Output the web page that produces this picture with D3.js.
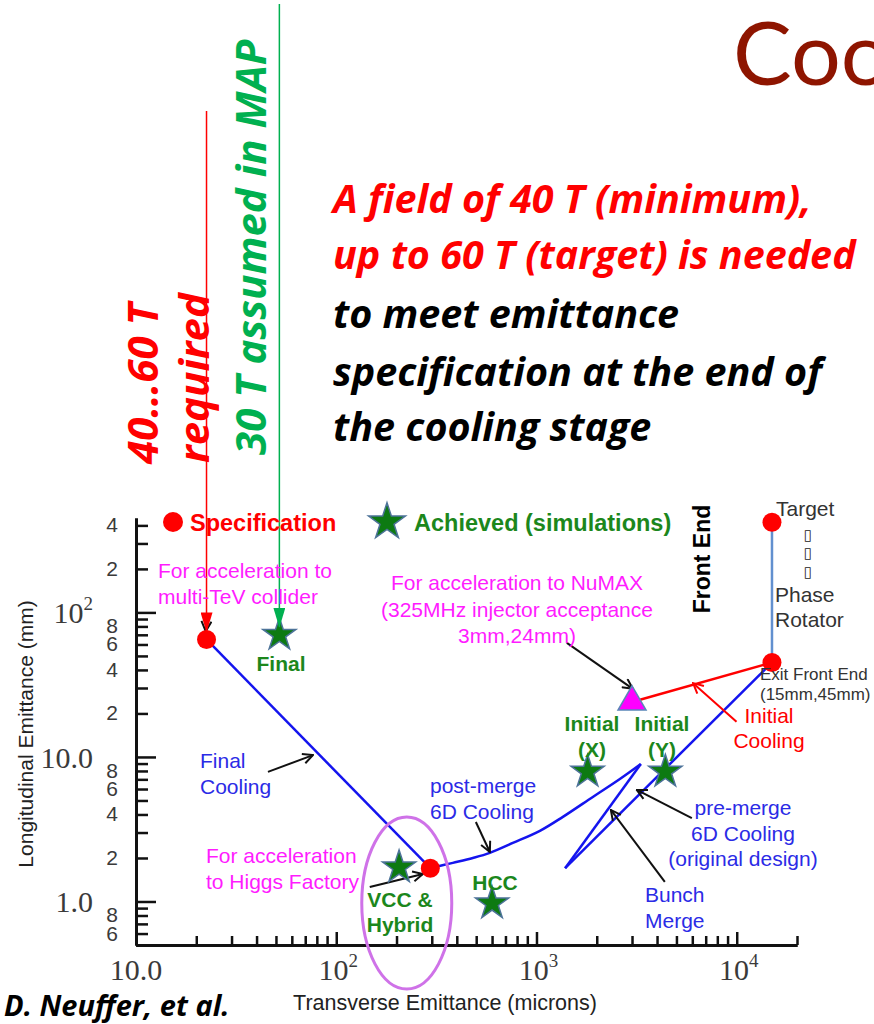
<!DOCTYPE html>
<html>
<head>
<meta charset="utf-8">
<script src="https://cdn.jsdelivr.net/npm/d3@7"></script>
<style>
  body { margin: 0; background: #fff; }
  svg { display: block; }
</style>
</head>
<body>
<svg id="chart" width="874" height="1024"></svg>
<script>
// ---- emittance data: transverse (microns) vs longitudinal (mm) ----
const specPoints = [
  { name: "multi-TeV collider", x: 22.5, y: 65 },
  { name: "Higgs Factory", x: 295, y: 1.7 },
  { name: "Target", x: 15000, y: 420 },
  { name: "Exit Front End", x: 15000, y: 45 }
];
const achievedStars = [
  { name: "Final", x: 52, y: 70 },
  { name: "VCC & Hybrid", x: 206, y: 1.72 },
  { name: "HCC", x: 600, y: 0.97 },
  { name: "Initial (X)", x: 1800, y: 7.9 },
  { name: "Initial (Y)", x: 4400, y: 7.9 }
];
const numaxPoint = { x: 3000, y: 24 };

const frontEndPath = [[15000, 420], [15000, 45]];
const initialCoolingPath = [[15000, 45], [3000, 24]];
const preMergePath = [[15000, 45], [1390, 1.7]];
const bunchMergePath = [[1390, 1.7], [3320, 8.94]];
const postMergePath = [[295, 1.7], [382, 1.85], [481, 2.0], [585, 2.17], [762, 2.54],
                       [1040, 3.08], [1355, 3.85], [1912, 5.29], [2609, 7.04], [3320, 8.94]];
const finalCoolingPath = [[22.5, 65], [295, 1.7]];

const xTickLabels = [
  { v: 10, base: "10.0", sup: "" },
  { v: 100, base: "10", sup: "2" },
  { v: 1000, base: "10", sup: "3" },
  { v: 10000, base: "10", sup: "4" }
];
const yDigitLabels = [
  { v: 400, t: "4" }, { v: 200, t: "2" },
  { v: 80, t: "8" }, { v: 60, t: "6" }, { v: 40, t: "4" }, { v: 20, t: "2" },
  { v: 8, t: "8" }, { v: 6, t: "6" }, { v: 4, t: "4" }, { v: 2, t: "2" },
  { v: 0.8, t: "8" }, { v: 0.6, t: "6" }
];
const yDecadeLabels = [
  { v: 100, base: "10", sup: "2" },
  { v: 10, base: "10.0", sup: "" },
  { v: 1, base: "1.0", sup: "" }
];

// ---- setup ----
const svg = d3.select("#chart");
const SANS = "'Liberation Sans', Arial, sans-serif";
const SERIF = "'Liberation Serif', 'Times New Roman', serif";
const SLIDE = "'Open Sans', Lato, sans-serif";
const C = {
  red: "#ff0000", blueLine: "#1414ee", blueText: "#2b2be6", magenta: "#ff1cff",
  green: "#1c871c", starFill: "#0d7a12", starStroke: "#4d7399",
  violet: "#cf72e8", steel: "#6290cf", gray: "#333333", mapGreen: "#00b050", title: "#8e1500"
};

svg.append("rect").attr("width", 874).attr("height", 1024).attr("fill", "#fff");

const x = d3.scaleLog().domain([10, 20000]).range([136, 797]);
const y = d3.scaleLog().domain([0.5, 450]).range([945, 518]);

// arrowhead markers
const defs = svg.append("defs");
function chevron(id, color) {
  defs.append("marker").attr("id", id)
    .attr("viewBox", "0 0 12 12").attr("refX", 11).attr("refY", 6)
    .attr("markerWidth", 12).attr("markerHeight", 12)
    .attr("markerUnits", "userSpaceOnUse").attr("orient", "auto")
    .append("path").attr("d", "M1,1 L11,6 L1,11")
    .attr("fill", "none").attr("stroke", color).attr("stroke-width", 2);
}
function spike(id, color) {
  defs.append("marker").attr("id", id)
    .attr("viewBox", "0 0 20 12").attr("refX", 19).attr("refY", 6)
    .attr("markerWidth", 20).attr("markerHeight", 12)
    .attr("markerUnits", "userSpaceOnUse").attr("orient", "auto")
    .append("path").attr("d", "M0,0 L20,6 L0,12 Z").attr("fill", color);
}
chevron("chevBlack", "#111");
chevron("chevRed", C.red);
spike("spikeRed", C.red);
spike("spikeGreen", C.mapGreen);

// ---- slide text ----
svg.append("text").attr("x", 733).attr("y", 85)
  .attr("font-family", "Lato, sans-serif").attr("font-size", 88).attr("fill", C.title)
  .text("Cooling");

const redLines = ["A field of 40 T (minimum),", "up to 60 T (target) is needed"];
const blackLines = ["to meet emittance", "specification at the end of", "the cooling stage"];
const slideBaselines = [213, 269, 328, 386, 441];
redLines.concat(blackLines).forEach((s, i) => {
  svg.append("text").attr("x", 333).attr("y", slideBaselines[i])
    .attr("font-family", SLIDE).attr("font-weight", 700).attr("font-style", "italic")
    .attr("font-size", 39.5).attr("fill", i < 2 ? C.red : "#000").text(s);
});

function rotatedText(xp, yp, s, color, size) {
  svg.append("text").attr("transform", `translate(${xp},${yp}) rotate(-90)`)
    .attr("font-family", SLIDE).attr("font-weight", 700).attr("font-style", "italic")
    .attr("font-size", size).attr("fill", color).text(s);
}
rotatedText(158, 464, "40\u202660 T", C.red, 42);
rotatedText(209, 463, "required", C.red, 42);
rotatedText(266, 455, "30 T assumed in MAP", C.mapGreen, 42);

svg.append("text").attr("x", 4).attr("y", 1016)
  .attr("font-family", SLIDE).attr("font-weight", 700).attr("font-style", "italic")
  .attr("font-size", 29).attr("fill", "#000").text("D. Neuffer, et al.");

// ---- axes ----
function decadeTicks(lo, hi) {
  const major = [], minor = [];
  for (let d = 0.1; d <= 10000; d *= 10) {
    for (let k = 1; k <= 9; k++) {
      const v = +(k * d).toPrecision(3);
      if (v < lo || v > hi) continue;
      (k === 1 ? major : minor).push(v);
    }
  }
  return { major, minor };
}
const yt = decadeTicks(0.5, 450);
const xt = decadeTicks(10, 20000);

const axes = svg.append("g");
function styleAxis(g) {
  g.selectAll("path.domain").attr("stroke", "#111").attr("stroke-width", 3);
  g.selectAll(".tick line").attr("stroke", "#111").attr("stroke-width", 2.5);
  g.selectAll(".tick text").remove();
}
axes.append("g").attr("transform", "translate(136,0)")
  .call(d3.axisLeft(y).tickValues(yt.minor).tickSizeInner(-12).tickSizeOuter(0)).call(styleAxis);
axes.append("g").attr("transform", "translate(136,0)")
  .call(d3.axisLeft(y).tickValues(yt.major).tickSizeInner(-20).tickSizeOuter(0)).call(styleAxis);
axes.append("g").attr("transform", "translate(0,945)")
  .call(d3.axisBottom(x).tickValues(xt.minor).tickSizeInner(-9).tickSizeOuter(0)).call(styleAxis);
axes.append("g").attr("transform", "translate(0,945)")
  .call(d3.axisBottom(x).tickValues(xt.major.filter(v => v > 10)).tickSizeInner(-13).tickSizeOuter(0)).call(styleAxis);

// tick labels
const tickG = svg.append("g").attr("fill", "#3a3a3a");
yDigitLabels.forEach(d => {
  tickG.append("text").attr("x", 118).attr("y", y(d.v) + 7)
    .attr("text-anchor", "end").attr("font-family", SANS).attr("font-size", 21).text(d.t);
});
function powerLabel(g, xp, yp, anchor, d) {
  const t = g.append("text").attr("x", xp).attr("y", yp).attr("text-anchor", anchor)
    .attr("font-family", SERIF).attr("font-size", 30);
  t.append("tspan").text(d.base);
  if (d.sup) t.append("tspan").attr("font-size", 19).attr("dy", -13).text(d.sup);
}
yDecadeLabels.forEach(d => powerLabel(tickG, 93, y(d.v) + 11, "end", d));
xTickLabels.forEach(d => powerLabel(tickG, x(d.v) + (d.sup ? 2 : 0), 980, "middle", d));

svg.append("text").attr("transform", "translate(33,734) rotate(-90)")
  .attr("text-anchor", "middle").attr("font-family", SANS).attr("font-size", 21)
  .attr("fill", "#222").text("Longitudinal Emittance (mm)");
svg.append("text").attr("x", 445).attr("y", 1010)
  .attr("text-anchor", "middle").attr("font-family", SANS).attr("font-size", 21.5)
  .attr("fill", "#222").text("Transverse Emittance (microns)");

// ---- curves ----
const line = d3.line().x(d => x(d[0])).y(d => y(d[1]));
const smooth = d3.line().x(d => x(d[0])).y(d => y(d[1])).curve(d3.curveCatmullRom.alpha(0.5));
const plot = svg.append("g");
function curve(path, gen, color) {
  plot.append("path").attr("d", gen(path)).attr("stroke", color)
    .attr("stroke-width", 2.5).attr("fill", "none").attr("stroke-linejoin", "round");
}
curve(frontEndPath, line, C.steel);
curve(preMergePath, line, C.blueLine);
curve(bunchMergePath, line, C.blueLine);
curve(postMergePath, smooth, C.blueLine);
curve(finalCoolingPath, line, C.blueLine);
curve(initialCoolingPath, line, C.red);

// ellipse around the VCC / Hybrid region
plot.append("ellipse").attr("cx", x(225)).attr("cy", y(0.976)).attr("rx", 45).attr("ry", 86)
  .attr("fill", "none").attr("stroke", C.violet).attr("stroke-width", 3);

// ---- annotation arrows (data coordinates) ----
function arrow(from, to, marker, color, width) {
  plot.append("line")
    .attr("x1", x(from[0])).attr("y1", y(from[1]))
    .attr("x2", x(to[0])).attr("y2", y(to[1]))
    .attr("stroke", color).attr("stroke-width", width || 2)
    .attr("marker-end", `url(#${marker})`);
}
arrow([45.6, 7.88], [76.5, 10.3], "chevBlack", "#111");
arrow([498, 3.55], [585, 2.2], "chevBlack", "#111");
arrow([147, 1.26], [271, 1.55], "chevBlack", "#111");
arrow([1418, 61.5], [3028, 29.6], "chevBlack", "#111");
arrow([5968, 3.78], [3170, 5.91], "chevBlack", "#111");
arrow([4375, 1.365], [2352, 4.3], "chevBlack", "#111");
arrow([9977, 17.55], [6058, 32.4], "chevRed", C.red);
arrow([22.6, 96], [22.3, 74], "chevBlack", "#111");

// ---- markers ----
const starSym = d3.symbol().type(d3.symbolStar);
plot.selectAll("path.star").data(achievedStars).join("path").attr("class", "star")
  .attr("transform", d => `translate(${x(d.x)},${y(d.y)})`)
  .attr("d", starSym.size(340)())
  .attr("fill", C.starFill).attr("stroke", C.starStroke).attr("stroke-width", 1.5);

plot.append("path")
  .attr("transform", `translate(${x(numaxPoint.x)},${y(numaxPoint.y)})`)
  .attr("d", d3.symbol().type(d3.symbolTriangle).size(340)())
  .attr("fill", "#ff00ff").attr("stroke", "#5a86b8").attr("stroke-width", 1.5);

plot.selectAll("circle.spec").data(specPoints).join("circle").attr("class", "spec")
  .attr("cx", d => x(d.x)).attr("cy", d => y(d.y)).attr("r", 9.5).attr("fill", C.red);

// vertical pointers from the slide text to the chart marks
const specFinal = specPoints[0], starFinal = achievedStars[0];
svg.append("line").attr("x1", x(specFinal.x)).attr("y1", 111)
  .attr("x2", x(specFinal.x)).attr("y2", y(specFinal.y) - 8)
  .attr("stroke", C.red).attr("stroke-width", 1.5).attr("marker-end", "url(#spikeRed)");
svg.append("line").attr("x1", x(starFinal.x)).attr("y1", 4)
  .attr("x2", x(starFinal.x)).attr("y2", y(starFinal.y) - 8)
  .attr("stroke", C.mapGreen).attr("stroke-width", 1.5).attr("marker-end", "url(#spikeGreen)");

// ---- legend ----
svg.append("circle").attr("cx", 173).attr("cy", 522).attr("r", 10).attr("fill", C.red);
svg.append("text").attr("x", 190).attr("y", 531).attr("font-family", SANS).attr("font-weight", 700)
  .attr("font-size", 23.5).attr("fill", C.red).text("Specification");
svg.append("path").attr("transform", "translate(387,522)").attr("d", starSym.size(420)())
  .attr("fill", C.starFill).attr("stroke", C.starStroke).attr("stroke-width", 1.5);
svg.append("text").attr("x", 414).attr("y", 531).attr("font-family", SANS).attr("font-weight", 700)
  .attr("font-size", 23.5).attr("fill", C.green).text("Achieved (simulations)");

// ---- annotation text ----
function label(lines, xp, baselines, color, opts = {}) {
  const t = svg.append("text").attr("font-family", opts.family || SANS)
    .attr("font-size", opts.size || 21).attr("font-weight", opts.bold ? 700 : 400)
    .attr("fill", color).attr("text-anchor", opts.anchor || "start");
  lines.forEach((s, i) => t.append("tspan").attr("x", xp).attr("y", baselines[i]).text(s));
}
label(["For acceleration to", "multi-TeV collider"], 158, [578, 604], C.magenta);
label(["For acceleration to NuMAX", "(325MHz injector acceptance", "3mm,24mm)"], 517, [590, 617, 643], C.magenta, { anchor: "middle" });
label(["For acceleration", "to Higgs Factory"], 206, [863, 889], C.magenta);
label(["Final"], 281, [671], C.green, { bold: true, anchor: "middle" });
label(["VCC &", "Hybrid"], 400, [907, 932], C.green, { bold: true, anchor: "middle" });
label(["HCC"], 495, [890], C.green, { bold: true, anchor: "middle" });
label(["Initial", "(X)"], 592, [731, 757], C.green, { bold: true, anchor: "middle" });
label(["Initial", "(Y)"], 662, [731, 757], C.green, { bold: true, anchor: "middle" });
label(["Final", "Cooling"], 200, [768, 794], C.blueText);
label(["post-merge", "6D Cooling"], 430, [793, 819], C.blueText);
label(["pre-merge", "6D Cooling", "(original design)"], 743, [815, 841, 866], C.blueText, { anchor: "middle" });
label(["Bunch", "Merge"], 645, [902, 928], C.blueText);
label(["Initial", "Cooling"], 769, [723, 748], C.red, { anchor: "middle" });
label(["Target"], 776, [516], C.gray);
label(["Phase", "Rotator"], 775, [602, 627], C.gray);
label(["Exit Front End", "(15mm,45mm)"], 760, [680, 700], C.gray, { size: 17 });
label(["\u25AF", "\u25AF", "\u25AF"], 808, [540, 558, 577], "#222", { size: 15, anchor: "middle", family: "'DejaVu Sans', sans-serif" });

svg.append("text").attr("transform", "translate(710,559) rotate(-90)")
  .attr("text-anchor", "middle").attr("font-family", SANS).attr("font-weight", 700)
  .attr("font-size", 23).attr("fill", "#000").text("Front End");
</script>
</body>
</html>
